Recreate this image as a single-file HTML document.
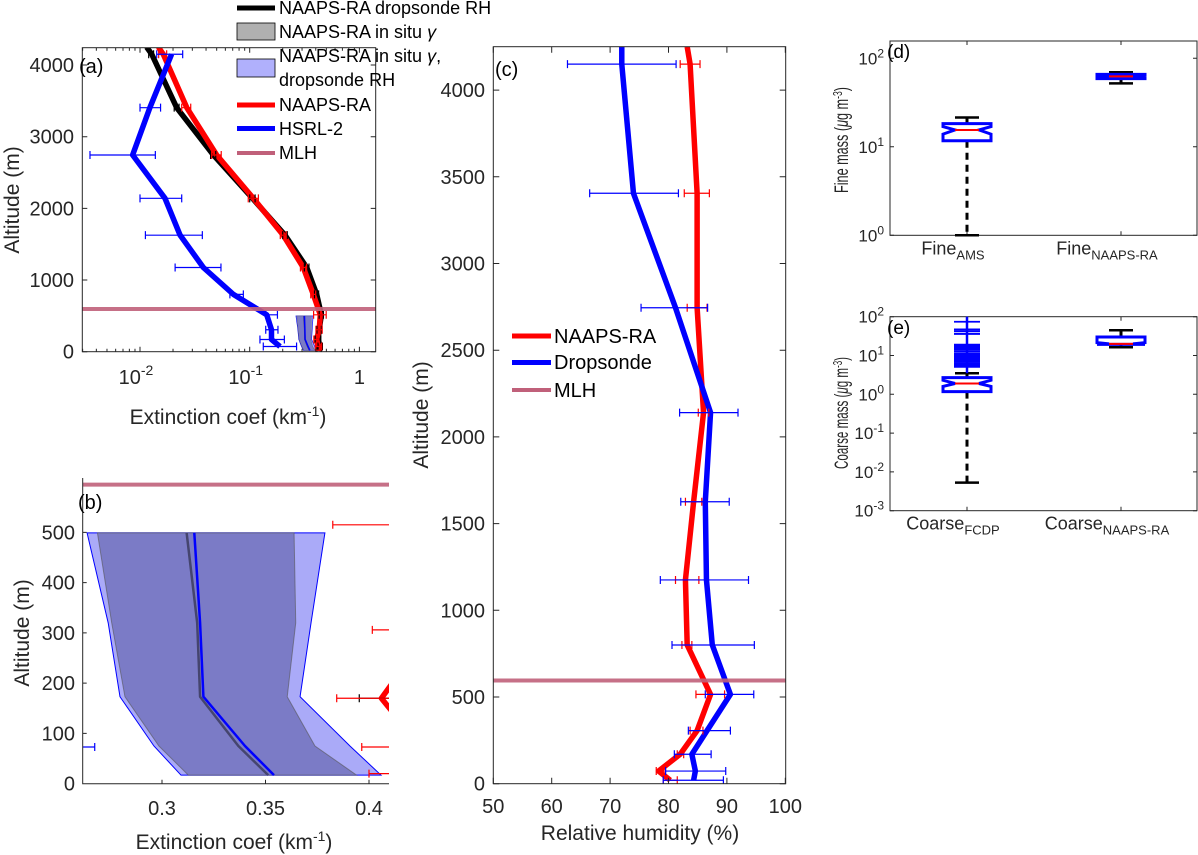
<!DOCTYPE html>
<html><head><meta charset="utf-8"><style>
html,body{margin:0;padding:0;background:#fff;}
svg{display:block;font-family:"Liberation Sans",sans-serif;}
</style></head><body>
<svg id="fig" width="1198" height="855" viewBox="0 0 1198 855" xmlns="http://www.w3.org/2000/svg">
<defs>
<clipPath id="clipA"><rect x="82.3" y="47.7" width="293.4" height="304"/></clipPath>
<clipPath id="clipB"><rect x="82.7" y="478" width="306.3" height="305.7"/></clipPath>
<clipPath id="clipC"><rect x="493.3" y="46.7" width="292.4" height="737"/></clipPath>
</defs>
<g id="panelA"></g>
<g id="panelB"></g>
<g id="panelC"></g>
<g id="panelD"></g>
<g id="panelE"></g>

<text x="79" y="73" font-size="20" fill="#000">(a)</text>
<text x="228" y="424" font-size="21" fill="#262626" text-anchor="middle">Extinction coef (km<tspan dy="-8" font-size="14">-1</tspan><tspan dy="8">)</tspan></text>
<text transform="translate(19,200) rotate(-90)" font-size="21" fill="#262626" text-anchor="middle">Altitude (m)</text>

<text x="78" y="509" font-size="20" fill="#000">(b)</text>
<text x="234" y="849" font-size="21" fill="#262626" text-anchor="middle">Extinction coef (km<tspan dy="-8" font-size="14">-1</tspan><tspan dy="8">)</tspan></text>
<text transform="translate(29,633) rotate(-90)" font-size="21" fill="#262626" text-anchor="middle">Altitude (m)</text>

<text x="495" y="76" font-size="20" fill="#000">(c)</text>
<text x="640" y="840" font-size="21" fill="#262626" text-anchor="middle">Relative humidity (%)</text>
<text transform="translate(428,415) rotate(-90)" font-size="21" fill="#262626" text-anchor="middle">Altitude (m)</text>

<text x="887" y="58" font-size="19" fill="#000">(d)</text>
<text transform="translate(848,140) rotate(-90)" font-size="19" fill="#262626" text-anchor="middle" textLength="106" lengthAdjust="spacingAndGlyphs">Fine mass (<tspan font-style="italic">μ</tspan>g m<tspan dy="-6" font-size="13">-3</tspan><tspan dy="6">)</tspan></text>
<text x="887" y="334" font-size="19" fill="#000">(e)</text>
<text transform="translate(848,413) rotate(-90)" font-size="19" fill="#262626" text-anchor="middle" textLength="112" lengthAdjust="spacingAndGlyphs">Coarse mass (<tspan font-style="italic">μ</tspan>g m<tspan dy="-6" font-size="13">-3</tspan><tspan dy="6">)</tspan></text>

<g>
 <g><line x1="237" y1="8" x2="275" y2="8" stroke="#000" stroke-width="5"/><text x="279" y="14" font-size="18">NAAPS-RA dropsonde RH</text></g>
 <g><rect x="237" y="23" width="38" height="17" fill="#b0b0b0" stroke="#000" stroke-width="0.8"/><text x="279" y="38" font-size="18">NAAPS-RA in situ <tspan font-style="italic">γ</tspan></text></g>
 <g><rect x="237" y="59" width="38" height="18" fill="#b0b0fc" stroke="#000" stroke-width="0.8"/><text x="279" y="62" font-size="18">NAAPS-RA in situ <tspan font-style="italic">γ</tspan>,</text><text x="279" y="86" font-size="18">dropsonde RH</text></g>
 <g><line x1="237" y1="105" x2="275" y2="105" stroke="#ff0000" stroke-width="5"/><text x="279" y="111" font-size="18">NAAPS-RA</text></g>
 <g><line x1="237" y1="128.5" x2="275" y2="128.5" stroke="#0000ff" stroke-width="5"/><text x="279" y="135" font-size="18">HSRL-2</text></g>
 <g><line x1="237" y1="153" x2="275" y2="153" stroke="#c0607a" stroke-width="4"/><text x="279" y="159" font-size="18">MLH</text></g>
</g>
<g>
 <g><line x1="512" y1="336" x2="551" y2="336" stroke="#ff0000" stroke-width="5"/><text x="554" y="343" font-size="20">NAAPS-RA</text></g>
 <g><line x1="512" y1="362.5" x2="551" y2="362.5" stroke="#0000ff" stroke-width="5"/><text x="554" y="369" font-size="20">Dropsonde</text></g>
 <g><line x1="512" y1="390" x2="551" y2="390" stroke="#c0607a" stroke-width="4"/><text x="554" y="397" font-size="20">MLH</text></g>
</g>
</svg>
<script>
const mlhAlt = 595;
const modelAlt = [20,73,170,306,515,800,1175,1626,2140,2745,3405,4150,4250];
const naapsExt = [0.42,0.425,0.406,0.43,0.44,0.38,0.308,0.202,0.108,0.05,0.0267,0.0163,0.0147];
const dropRhExt = [0.43,0.44,0.42,0.43,0.45,0.408,0.331,0.21,0.106,0.0466,0.0216,0.0128,0.0115];
const naapsLo = [0.40,0.3965,0.3844,0.4016,0.3825,0.36,0.29,0.19,0.097,0.045,0.024,0.0148];
const naapsHi = [0.44,0.453,0.428,0.458,0.498,0.40,0.33,0.215,0.12,0.055,0.029,0.0175];
const dropRhLo = [0.41,0.42,0.3953,0.41,0.43,0.39,0.315,0.20,0.10,0.044,0.0205,0.012];
const dropRhHi = [0.45,0.46,0.445,0.45,0.47,0.425,0.347,0.22,0.112,0.049,0.0227,0.0133];
const hsrlAlt = [73,170,306,515,800,1175,1626,2140,2745,3405,4150];
const hsrlExt = [0.189,0.158,0.158,0.143,0.071,0.0378,0.0232,0.0169,0.00857,0.0123,0.0194];
const hsrlLo = [0.133,0.124,0.140,0.140,0.066,0.0209,0.0112,0.0100,0.0035,0.0100,0.0142];
const hsrlHi = [0.2675,0.207,0.181,0.179,0.0875,0.0547,0.037,0.024,0.0138,0.0154,0.0245];
const bandAlt = [17,75,173,320,499];
const lightLo = [0.3092,0.2961,0.2797,0.2740,0.2638];
const lightHi = [0.4058,0.3908,0.3667,0.3720,0.3787];
const darkLo = [0.3127,0.2985,0.2821,0.2757,0.2688];
const darkHi = [0.3940,0.3739,0.3605,0.3646,0.3638];
const blueMid = [0.3541,0.3401,0.3200,0.3184,0.3156];
const grayMid = [0.3513,0.3369,0.3184,0.3170,0.3119];
const rhAlt = [20,73,170,306,515,800,1175,1626,2140,2745,3405,4150,4250];
const rhModel = [80.3,78.3,82.0,84.9,87.2,83.2,82.9,84.3,86.0,84.9,84.9,83.7,83.2];
const rhSonde = [84.3,84.6,84.0,86.6,90.6,87.5,86.5,86.3,87.2,81.2,74.0,72.0,72.0];
const rhModelLo = [79.1,77.9,81.5,83.7,84.7,82.3,81.2,82.9,85.1,83.2,82.7,82.0];
const rhModelHi = [81.5,79.5,82.6,85.9,89.6,84.0,85.2,85.7,86.9,86.6,87.0,85.4];
const rhSondeLo = [79.1,79.5,81.0,83.4,86.3,80.6,78.6,82.1,81.9,75.3,66.5,62.7];
const rhSondeHi = [89.4,89.8,87.3,90.6,94.6,94.7,93.7,90.4,91.9,86.7,81.7,81.3];
const fineCats = ['AMS','NAAPS-RA'];
const fineQ1 = [11.7,58.9];
const fineMed = [15.5,62.5];
const fineQ3 = [18.3,65.9];
const fineWLo = [1.0,52];
const fineWHi = [21.4,69.5];
const fineNotchLo = [13.9,61.5];
const fineNotchHi = [16.9,64.0];
const coarseCats = ['FCDP','NAAPS-RA'];
const coarseQ1 = [1.17,19.4];
const coarseMed = [1.9,20];
const coarseQ3 = [2.7,30];
const coarseWLo = [0.0053,16.3];
const coarseWHi = [3.5,44.7];
const coarseNotchLo = [1.6,19.4];
const coarseNotchHi = [2.3,21.5];
const fcdpOutliers = [74,47,42,36,19,17.5,16,14.5,13,11.5,10.5,9.5,8.8,8.1,7.4,6.8,6.2,5.6,5.1];

const NS='http://www.w3.org/2000/svg';
function mk(tag,parent){const e=document.createElementNS(NS,tag);parent.appendChild(e);return e;}
function set(e,o){for(const k in o)e.setAttribute(k,o[k]);return e;}
const L10=Math.log10;
const AX='#262626';
const xA=v=>140+(L10(v)+2)*109.7, yA=a=>351.7-a*0.07167;
const xB=v=>162+(v-0.3)*2070, yB=a=>783.7-a*0.5027;
const xC=r=>493.3+(r-50)*5.84, yC=a=>783.7-a*0.1734;
const yD=v=>58.3+(2-L10(v))*88.5;
const yE=v=>316.7+(2-L10(v))*38.8;

function errbar(g,x1,x2,y,color,name){
  const p=mk('path',g);
  set(p,{d:`M${x1} ${y}H${x2}M${x1} ${y-4}V${y+4}M${x2} ${y-4}V${y+4}`,stroke:color,'stroke-width':1.2,fill:'none'});
  
  
}
function poly(g,xs,ys,style,name){
  const p=mk('polyline',g);
  set(p,Object.assign({points:xs.map((x,i)=>x+','+ys[i]).join(' '),fill:'none','stroke-linejoin':'round'},style));
  
  
  return p;
}
function txt(g,x,y,s,size,anchor){
  const t=mk('text',g);set(t,{x:x,y:y,'font-size':size,fill:AX,'text-anchor':anchor||'middle'});t.textContent=s;return t;
}
function band(g,lo,hi,alts,xs,ys,style,name){
  const pts=[];
  for(let i=0;i<alts.length;i++)pts.push(xs(lo[i])+','+ys(alts[i]));
  for(let i=alts.length-1;i>=0;i--)pts.push(xs(hi[i])+','+ys(alts[i]));
  const p=mk('polygon',g);
  set(p,Object.assign({points:pts.join(' ')},style));
  
  
}

(function(){
  const G=document.getElementById('panelA');
  const g=mk('g',G); g.setAttribute('clip-path','url(#clipA)');
  
  
  band(g,lightLo,lightHi,bandAlt,xA,yA,{fill:'#aaaaf8',stroke:'#0000ff','stroke-width':0.6},'band-insitu-gamma-dropsonde-a');
  band(g,darkLo,darkHi,bandAlt,xA,yA,{fill:'#7b7bc6',stroke:'#555','stroke-width':0.6,'stroke-opacity':0.6},'band-insitu-gamma-a');
  poly(g,grayMid.map(xA),bandAlt.map(yA),{stroke:'#45456e','stroke-width':1.5},'insitu-gamma-mid-a');
  poly(g,blueMid.map(xA),bandAlt.map(yA),{stroke:'#0000ff','stroke-width':1.5},'insitu-gamma-dropsonde-mid-a');
  poly(g,dropRhExt.map(xA),modelAlt.map(yA),{stroke:'#000','stroke-width':5.5},'naaps-dropsonde-rh-line');
  poly(g,naapsExt.map(xA),modelAlt.map(yA),{stroke:'#ff0000','stroke-width':5.5},'naaps-ra-line');
  for(let i=0;i<dropRhLo.length;i++)errbar(g,xA(dropRhLo[i]),xA(dropRhHi[i]),yA(modelAlt[i]),'#000','naaps-dropsonde-errorbar');
  for(let i=0;i<naapsLo.length;i++)errbar(g,xA(naapsLo[i]),xA(naapsHi[i]),yA(modelAlt[i]),'#ff0000','naaps-ra-errorbar');
  poly(g,hsrlExt.map(xA),hsrlAlt.map(yA),{stroke:'#0000ff','stroke-width':5.5},'hsrl2-line');
  for(let i=0;i<hsrlLo.length;i++)errbar(g,xA(hsrlLo[i]),xA(hsrlHi[i]),yA(hsrlAlt[i]),'#0000ff','hsrl2-errorbar');
  const m=mk('line',g);set(m,{x1:82,x2:376,y1:yA(mlhAlt),y2:yA(mlhAlt),stroke:'#c0607a','stroke-width':4,'stroke-opacity':0.9});
  
  
  const ax=mk('g',G);
  
  
  set(mk('rect',ax),{x:82.3,y:47.7,width:293.4,height:304,fill:'none',stroke:AX,'stroke-width':1});
  let d='';
  for(let e=-3;e<=0;e++)for(let k=1;k<=9;k++){const v=k*Math.pow(10,e);const x=xA(v);if(x<82.3||x>375.7)continue;const l=k===1?5:3;d+=`M${x} 351.7v-${l}M${x} 47.7v${l}`;}
  for(let a=0;a<=4000;a+=1000){const y=yA(a);d+=`M82.3 ${y}h5M375.7 ${y}h-5`;txt(ax,74,y+7,String(a),20,'end');}
  set(mk('path',ax),{d:d,stroke:AX,'stroke-width':1,fill:'none'});
  [-2,-1].forEach(e=>{const t=txt(ax,xA(Math.pow(10,e))-4,384,'10',20);const s=mk('tspan',t);set(s,{dy:-9,'font-size':14});s.textContent=String(e);});
  txt(ax,xA(1),384,'1',20);
})();

(function(){
  const G=document.getElementById('panelB');
  const g=mk('g',G); g.setAttribute('clip-path','url(#clipB)');
  
  
  band(g,lightLo,lightHi,bandAlt,xB,yB,{fill:'#aaaaf8',stroke:'#0000ff','stroke-width':1},'band-insitu-gamma-dropsonde-b');
  band(g,darkLo,darkHi,bandAlt,xB,yB,{fill:'#7b7bc6',stroke:'#555','stroke-width':1,'stroke-opacity':0.6},'band-insitu-gamma-b');
  poly(g,grayMid.map(xB),bandAlt.map(yB),{stroke:'#45456e','stroke-width':2.5},'insitu-gamma-mid-b');
  poly(g,blueMid.map(xB),bandAlt.map(yB),{stroke:'#0000ff','stroke-width':2.5},'insitu-gamma-dropsonde-mid-b');
  poly(g,dropRhExt.map(xB),modelAlt.map(yB),{stroke:'#000','stroke-width':5.5},'naaps-dropsonde-rh-line-b');
  poly(g,naapsExt.map(xB),modelAlt.map(yB),{stroke:'#ff0000','stroke-width':5.5},'naaps-ra-line-b');
  for(let i=0;i<dropRhLo.length;i++)errbar(g,xB(dropRhLo[i]),xB(dropRhHi[i]),yB(modelAlt[i]),'#000','naaps-dropsonde-errorbar-b');
  for(let i=0;i<naapsLo.length;i++)errbar(g,xB(naapsLo[i]),xB(naapsHi[i]),yB(modelAlt[i]),'#ff0000','naaps-ra-errorbar-b');
  poly(g,hsrlExt.map(xB),hsrlAlt.map(yB),{stroke:'#0000ff','stroke-width':5.5},'hsrl2-line-b');
  for(let i=0;i<hsrlLo.length;i++)errbar(g,xB(hsrlLo[i]),xB(hsrlHi[i]),yB(hsrlAlt[i]),'#0000ff','hsrl2-errorbar-b');
  const m=mk('line',g);set(m,{x1:82,x2:390,y1:yB(mlhAlt),y2:yB(mlhAlt),stroke:'#c0607a','stroke-width':4,'stroke-opacity':0.9});
  
  
  const ax=mk('g',G);
  
  
  let d='M82.7 478V783.7H389';
  for(let a=0;a<=500;a+=100){const y=yB(a);d+=`M82.7 ${y}h4`;txt(ax,75,y+7,String(a),20,'end');}
  [0.3,0.35,0.4].forEach(v=>{const x=xB(v);d+=`M${x} 783.7v-4`;txt(ax,x,815,String(v),20);});
  set(mk('path',ax),{d:d,stroke:AX,'stroke-width':1,fill:'none'});
})();

(function(){
  const G=document.getElementById('panelC');
  const g=mk('g',G); g.setAttribute('clip-path','url(#clipC)');
  
  
  poly(g,rhModel.map(xC),rhAlt.map(yC),{stroke:'#ff0000','stroke-width':5.5},'naaps-ra-rh-line');
  poly(g,rhSonde.map(xC),rhAlt.map(yC),{stroke:'#0000ff','stroke-width':5.5},'dropsonde-rh-line');
  for(let i=0;i<rhModelLo.length;i++)errbar(g,xC(rhModelLo[i]),xC(rhModelHi[i]),yC(rhAlt[i]),'#ff0000','naaps-ra-rh-errorbar');
  for(let i=0;i<rhSondeLo.length;i++)errbar(g,xC(rhSondeLo[i]),xC(rhSondeHi[i]),yC(rhAlt[i]),'#0000ff','dropsonde-rh-errorbar');
  const m=mk('line',g);set(m,{x1:493,x2:786,y1:yC(mlhAlt),y2:yC(mlhAlt),stroke:'#c0607a','stroke-width':4,'stroke-opacity':0.9});
  
  
  const ax=mk('g',G);
  
  
  set(mk('rect',ax),{x:493.3,y:46.7,width:292.4,height:737,fill:'none',stroke:AX,'stroke-width':1});
  let d='';
  for(let a=0;a<=4000;a+=500){const y=yC(a);d+=`M493.3 ${y}h6M785.7 ${y}h-6`;txt(ax,485,y+7,String(a),20,'end');}
  for(let r=50;r<=100;r+=10){const x=xC(r);d+=`M${x} 783.7v-6M${x} 46.7v6`;txt(ax,x,813,String(r),20);}
  set(mk('path',ax),{d:d,stroke:AX,'stroke-width':1,fill:'none'});
})();

function boxplot(G,ys,x0,x1,y0,y1,cx,cats,prefix,q1,med,q3,wlo,whi,nlo,nhi,ticks,name){
  const ax=mk('g',G);
  
  
  set(mk('rect',ax),{x:x0,y:y0,width:x1-x0,height:y1-y0,fill:'none',stroke:AX,'stroke-width':1});
  let d='';
  ticks.forEach(e=>{const y=ys(Math.pow(10,e));d+=`M${x0} ${y}h4M${x1} ${y}h-4`;
    const t=txt(ax,x0-6,y+6,'10',17,'end');const s=mk('tspan',t);set(s,{dy:-7,'font-size':12});s.textContent=String(e);});
  cx.forEach((x,i)=>{d+=`M${x} ${y1}v-4M${x} ${y0}v4`;
    const t=txt(ax,x-14,y1+19,prefix,18);const s=mk('tspan',t);set(s,{dy:5,'font-size':13});s.textContent=cats[i];});
  set(mk('path',ax),{d:d,stroke:AX,'stroke-width':1,fill:'none'});
  const w=24,nw=12,cw=12;
  cx.forEach((x,i)=>{
    const g=mk('g',G);
    
    
    set(mk('path',g),{d:`M${x} ${ys(q3[i])}V${ys(whi[i])}M${x} ${ys(q1[i])}V${ys(wlo[i])}`,stroke:'#000','stroke-width':3,'stroke-dasharray':'7,5',fill:'none'});
    set(mk('path',g),{d:`M${x-cw} ${ys(whi[i])}h${2*cw}M${x-cw} ${ys(wlo[i])}h${2*cw}`,stroke:'#000','stroke-width':2.5,fill:'none'});
    const Q1=ys(q1[i]),Q3=ys(q3[i]),M=ys(med[i]),NL=ys(nlo[i]),NH=ys(nhi[i]);
    set(mk('polygon',g),{points:`${x-w},${Q1} ${x+w},${Q1} ${x+w},${NL} ${x+nw},${M} ${x+w},${NH} ${x+w},${Q3} ${x-w},${Q3} ${x-w},${NH} ${x-nw},${M} ${x-w},${NL}`,fill:'#fff',stroke:'#0000ff','stroke-width':3,'stroke-linejoin':'miter'});
    set(mk('line',g),{x1:x-nw,x2:x+nw,y1:M,y2:M,stroke:'#ff0000','stroke-width':2});
  });
}
(function(){
  const G=document.getElementById('panelD');
  boxplot(G,yD,890,1197,41,235.3,[967,1121],fineCats,'Fine',fineQ1,fineMed,fineQ3,fineWLo,fineWHi,fineNotchLo,fineNotchHi,[0,1,2],'fine-mass');
})();
(function(){
  const G=document.getElementById('panelE');
  boxplot(G,yE,890,1197,316.7,510.7,[967,1121],coarseCats,'Coarse',coarseQ1,coarseMed,coarseQ3,coarseWLo,coarseWHi,coarseNotchLo,coarseNotchHi,[-3,-2,-1,0,1,2],'coarse-mass');
  const g=mk('g',G);
  
  
  const v0=mk('line',g);
  set(v0,{x1:967,x2:967,y1:yE(fcdpOutliers[0])-5,y2:yE(coarseWHi[0]),stroke:'#0000ff','stroke-width':2.5});
  
  
  fcdpOutliers.forEach(v=>{
    const y=yE(v);
    const p=mk('path',g);
    set(p,{d:`M954 ${y}h26M967 ${y-5}v10`,stroke:'#0000ff','stroke-width':1.8,fill:'none'});
    
    
  });
})();
</script>
</body></html>
